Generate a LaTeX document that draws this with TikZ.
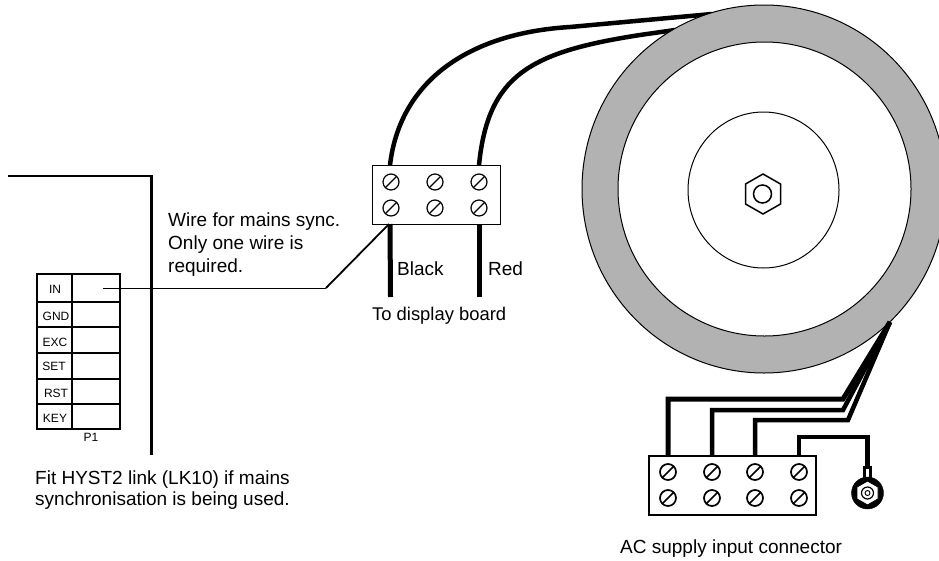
\documentclass[tikz,border=0pt]{standalone}
\usepackage{fontspec}
\setmainfont{Liberation Sans}
\usepackage{tikz}

\tikzset{
	label/.style={inner sep=0pt, anchor=base west, font=\fontsize{19}{21}\selectfont},
	pinlabel/.style={inner sep=0pt, font=\fontsize{12}{12}\selectfont},
	block/.style={draw, line width=1.2pt, inner sep=0pt, anchor=north west},
	wire/.style={line width=4.5pt},
	screw/.pic={
		\draw (0,0) circle [radius=8pt];
		\draw (-5.6,5.6) -- (5.6,-5.6);
	}
}

\begin{document}
\begin{tikzpicture}[x=1pt,y=-1pt]
	\useasboundingbox (0,0) rectangle (939,560);

	% display board wires
	\coordinate (blackUp) at (390,165);
	\coordinate (blackDown) at (390.5,297);
	\coordinate (redUp) at (479,165);
	\coordinate (redDown) at (479,297);
	\coordinate (coilA) at (712,14);
	\coordinate (coilB) at (675,30);
	\draw[wire] (blackUp) .. controls (400,80) and (470,33) .. (570,27) -- (coilA);
	\draw[wire] (redUp) .. controls (488,75) and (530,52) .. (640,35) -- (coilB);
	\draw[line width=5pt] (blackUp |- 0,224) -- (blackDown);
	\draw[line width=5pt] (redUp |- 0,224) -- (redDown);

	% transformer
	\draw[fill={rgb,255:red,178;green,178;blue,178}, line width=1pt] (764,189) ellipse [x radius=182pt, y radius=184pt];
	\draw[fill=white, line width=1pt] (764.5,189) ellipse [x radius=146.5pt, y radius=147pt];
	\draw[line width=1pt] (763.5,190) ellipse [x radius=75.5pt, y radius=78pt];
	\draw[line width=1.5pt] (763,174) -- (780.5,184) -- (780.5,204) -- (763,214) -- (745.5,204) -- (745.5,184) -- cycle;
	\draw[line width=1.5pt] (762.5,194) circle [radius=9pt];

	% display terminal block
	\node[block, minimum width=128pt, minimum height=59pt] (displayblock) at (372,165) {};
	\foreach \x in {391,435,479}
		\foreach \y in {182,208}
			\pic[line width=1.2pt] at (\x,\y) {screw};
	\node[label] (black) at (397,275) {Black};
	\node[label] (red) at (488,275) {Red};
	\node[label, font=\fontsize{18.4}{21}\selectfont] (display) at (372,320) {To display board};

	% mains sync wire
	\coordinate (syncStart) at (103,288);
	\coordinate (syncBend) at (326,288);
	\coordinate (syncEnd) at (389,224);
	\draw[line width=1pt] (syncStart) -- (syncBend);
	\draw[line width=1.8pt] (syncBend) -- (syncEnd);
	\node[label, align=left, font=\fontsize{19}{23}\selectfont, anchor=north west] (syncnote) at (168,213) {Wire for mains sync.\\Only one wire is\\required.};

	% board edge and P1
	\draw[line width=2.2pt] (8,176) -- (152,176);
	\draw[line width=3pt] (151,175) -- (151,455);
	\draw[line width=2.2pt] (37,274) rectangle (120,429);
	\draw[line width=2.2pt] (72,274) -- (72,429);
	\foreach \y in {302,327,353,379,404}
		\draw[line width=2.4pt] (37,\y) -- (120,\y);
	\node[pinlabel] (in) at (55,289) {IN};
	\node[pinlabel] (gnd) at (56,316) {GND};
	\node[pinlabel] (exc) at (55,342) {EXC};
	\node[pinlabel] (set) at (54,366) {SET};
	\node[pinlabel] (rst) at (56,393) {RST};
	\node[pinlabel] (key) at (55,418) {KEY};
	\node[pinlabel] (p1) at (91,437) {P1};
	\node[label] (fita) at (35,484) {Fit HYST2 link (LK10) if mains};
	\node[label] (fitb) at (35,505) {synchronisation is being used.};

	% AC wires
	\coordinate (acTop) at (890,322);
	\coordinate (acA) at (668,455);
	\coordinate (acB) at (712,455);
	\coordinate (acC) at (755,455);
	\coordinate (acD) at (799,455);
	\draw[line width=5pt] (acA) -- (668,399) -- (843,399) -- (acTop);
	\draw[wire] (acB) -- (712,410) -- (843,410) -- (acTop);
	\draw[wire] (acC) -- (755,420) -- (848,420) -- (acTop);

	% AC terminal block
	\node[block, line width=1.7pt, minimum width=167pt, minimum height=59pt] (acblock) at (648,455) {};
	\foreach \x in {668,712,755,799}
		\foreach \y in {472,498}
			\pic[line width=1.7pt] at (\x,\y) {screw};

	% earth lug
	\coordinate (lugTop) at (867.5,467);
	\draw[wire] (acD) -- (799,437) -- (867.5,437) -- (lugTop);
	\draw[fill=white, line width=3pt] (864.5,467) rectangle (870.5,482);
	\draw[fill] (867.5,493) circle [radius=16pt];
	\draw[fill=white, line width=0.9pt] (867.5,481) -- (878,487) -- (878,499) -- (867.5,505) -- (857,499) -- (857,487) -- cycle;
	\draw[fill=white, line width=1.2pt] (867.5,493) circle [radius=6pt];
	\draw[line width=0.9pt] (867.5,493) circle [radius=2.5pt];
	\node[label] (acnote) at (620,553) {AC supply input connector};
\end{tikzpicture}
\end{document}
